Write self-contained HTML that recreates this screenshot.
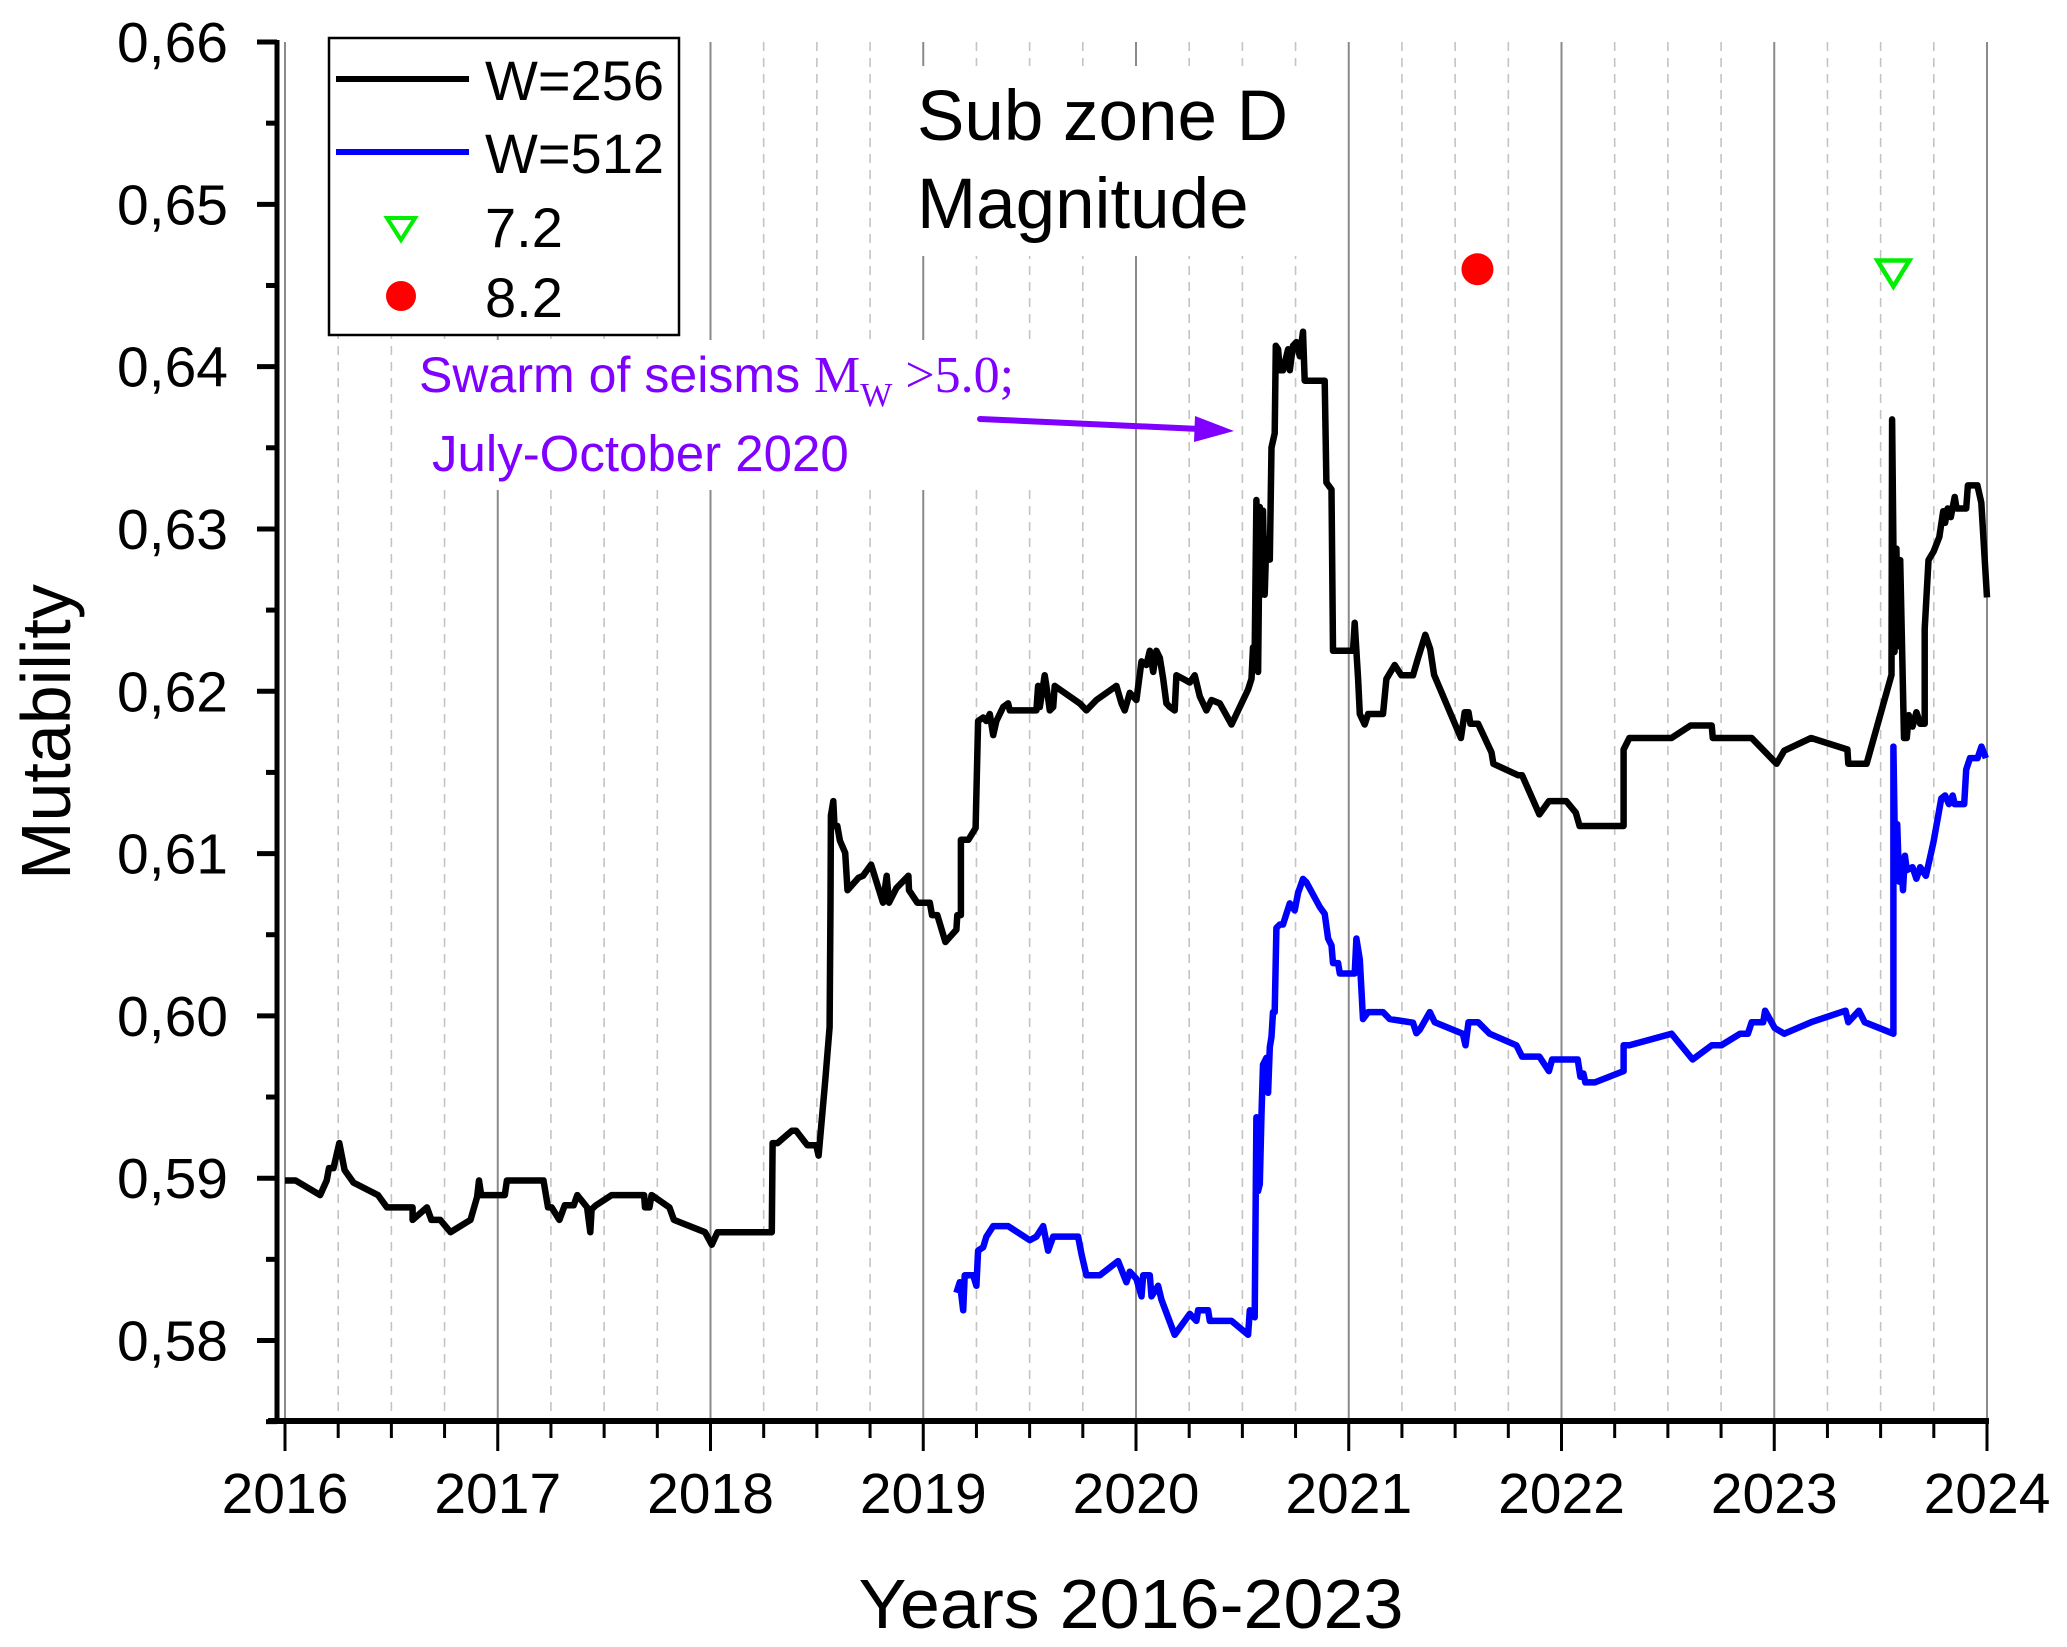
<!DOCTYPE html>
<html><head><meta charset="utf-8"><style>
html,body{margin:0;padding:0;background:#fff;}
svg{display:block;font-family:"Liberation Sans",sans-serif;}
</style></head><body>
<svg id="chart" width="2067" height="1647" viewBox="0 0 2067 1647" xmlns="http://www.w3.org/2000/svg">
<rect x="0" y="0" width="2067" height="1647" fill="#fff"/>
<g id="grid"></g>
<rect x="902" y="66" width="440" height="190" fill="#fff"/>
<rect x="405" y="340" width="665" height="150" fill="#fff"/>
<g id="series"></g>
<g id="axes"></g>
<text x="917" y="140" font-size="71" fill="#000">Sub zone D</text>
<text x="917" y="228" font-size="71" fill="#000">Magnitude</text>
<g>
<text x="419" y="392" font-size="50" fill="#7f00ff"><tspan textLength="395">Swarm of seisms </tspan><tspan font-family="Liberation Serif, serif" font-size="52">M</tspan><tspan font-family="Liberation Serif, serif" font-size="34" dy="14">W</tspan><tspan font-family="Liberation Serif, serif" font-size="52" dy="-14"> &gt;5.0;</tspan></text>
<text x="432" y="471" font-size="51" fill="#7f00ff">July-October 2020</text>
<line x1="980" y1="419" x2="1200" y2="429" stroke="#7f00ff" stroke-width="6" stroke-linecap="round"/>
<polygon points="1234,431 1195,416 1194,442" fill="#7f00ff"/>
</g>
<g>
<rect x="329" y="38" width="350" height="297" fill="#fff" stroke="#000" stroke-width="2.5"/>
<line x1="336" y1="79" x2="469" y2="79" stroke="#000" stroke-width="6"/>
<text x="485" y="100" font-size="56">W=256</text>
<line x1="336" y1="152" x2="469" y2="152" stroke="#0000ff" stroke-width="6"/>
<text x="485" y="173" font-size="56">W=512</text>
<polygon points="387,218 415,218 401,240" fill="none" stroke="#00ee00" stroke-width="4"/>
<text x="485" y="247" font-size="56">7.2</text>
<circle cx="401" cy="296" r="15" fill="#ff0000"/>
<text x="485" y="317" font-size="56">8.2</text>
</g>
<text x="1131" y="1628" font-size="70" text-anchor="middle" textLength="545" lengthAdjust="spacingAndGlyphs">Years 2016-2023</text>
<text transform="translate(70,732) rotate(-90)" font-size="70" text-anchor="middle">Mutability</text>
</svg>
<script>
const blackYears=[2016.0,2016.05,2016.165,2016.196,2016.207,2016.228,2016.255,2016.28,2016.322,2016.437,2016.479,2016.6,2016.6,2016.667,2016.688,2016.73,2016.778,2016.872,2016.903,2016.912,2016.922,2017.033,2017.043,2017.215,2017.236,2017.253,2017.29,2017.315,2017.357,2017.374,2017.42,2017.435,2017.441,2017.462,2017.535,2017.688,2017.692,2017.713,2017.723,2017.807,2017.828,2017.974,2018.006,2018.033,2018.288,2018.292,2018.315,2018.382,2018.403,2018.455,2018.497,2018.508,2018.539,2018.56,2018.564,2018.566,2018.577,2018.583,2018.596,2018.608,2018.633,2018.644,2018.696,2018.717,2018.755,2018.811,2018.828,2018.839,2018.874,2018.93,2018.933,2018.972,2019.031,2019.041,2019.066,2019.104,2019.156,2019.16,2019.177,2019.177,2019.198,2019.212,2019.246,2019.258,2019.282,2019.297,2019.313,2019.329,2019.344,2019.376,2019.399,2019.407,2019.532,2019.54,2019.548,2019.571,2019.579,2019.595,2019.611,2019.618,2019.642,2019.736,2019.767,2019.814,2019.908,2019.932,2019.947,2019.971,2020.002,2020.026,2020.049,2020.065,2020.081,2020.096,2020.112,2020.128,2020.143,2020.159,2020.182,2020.19,2020.222,2020.253,2020.276,2020.3,2020.331,2020.355,2020.394,2020.449,2020.527,2020.543,2020.55,2020.558,2020.566,2020.574,2020.582,2020.59,2020.597,2020.605,2020.613,2020.629,2020.637,2020.652,2020.657,2020.668,2020.676,2020.691,2020.715,2020.723,2020.738,2020.754,2020.77,2020.785,2020.793,2020.887,2020.895,2020.919,2020.926,2020.997,2021.02,2021.028,2021.044,2021.052,2021.075,2021.091,2021.161,2021.177,2021.216,2021.247,2021.302,2021.326,2021.36,2021.383,2021.401,2021.527,2021.545,2021.563,2021.572,2021.608,2021.671,2021.68,2021.797,2021.815,2021.896,2021.941,2022.022,2022.067,2022.085,2022.292,2022.292,2022.319,2022.517,2022.607,2022.706,2022.711,2022.894,2023.011,2023.047,2023.173,2023.344,2023.348,2023.434,2023.551,2023.554,2023.565,2023.574,2023.583,2023.592,2023.61,2023.623,2023.632,2023.65,2023.668,2023.686,2023.707,2023.707,2023.725,2023.749,2023.776,2023.794,2023.803,2023.815,2023.83,2023.848,2023.857,2023.902,2023.91,2023.955,2023.973,2024.0];
const blackValues=[0.58986,0.58986,0.58896,0.58986,0.59062,0.59062,0.59216,0.5905,0.58973,0.58896,0.5882,0.5882,0.58743,0.5882,0.58743,0.58743,0.58667,0.58743,0.58884,0.58986,0.58896,0.58896,0.58986,0.58986,0.5882,0.5882,0.58743,0.58833,0.58833,0.58896,0.5882,0.58667,0.58808,0.58833,0.58896,0.58896,0.5882,0.5882,0.58896,0.5882,0.58743,0.58667,0.5859,0.58667,0.58667,0.59216,0.59216,0.59292,0.59292,0.59203,0.59203,0.59139,0.59599,0.59931,0.60697,0.61234,0.61323,0.6117,0.6117,0.6108,0.61004,0.60774,0.60851,0.60863,0.60932,0.60697,0.60863,0.60697,0.60787,0.60863,0.60774,0.60697,0.60697,0.60621,0.60621,0.60455,0.60531,0.60621,0.60621,0.61085,0.61085,0.61085,0.61157,0.61817,0.61838,0.61817,0.6186,0.6173,0.61817,0.61903,0.61925,0.61882,0.61882,0.62033,0.61903,0.62098,0.62033,0.61882,0.61903,0.62033,0.62011,0.61925,0.61882,0.61946,0.62033,0.61925,0.61882,0.6199,0.61946,0.62184,0.62162,0.62249,0.62119,0.62249,0.62206,0.62076,0.61925,0.61903,0.61882,0.62098,0.62076,0.62054,0.62098,0.61968,0.61882,0.61946,0.61925,0.61795,0.62011,0.62076,0.6227,0.62249,0.63178,0.62119,0.63135,0.62595,0.63113,0.62595,0.6294,0.62811,0.63502,0.63589,0.64129,0.64107,0.63978,0.63978,0.64107,0.63978,0.64129,0.64151,0.64064,0.64215,0.63913,0.63913,0.63286,0.63243,0.62249,0.62249,0.62249,0.62422,0.62076,0.6186,0.61795,0.6186,0.6186,0.62076,0.62162,0.62098,0.62098,0.62206,0.62348,0.6226,0.62101,0.61712,0.61871,0.61871,0.618,0.618,0.61623,0.61553,0.61482,0.61482,0.61241,0.61323,0.61323,0.61252,0.6117,0.6117,0.61641,0.61712,0.61712,0.61789,0.61789,0.61712,0.61712,0.61553,0.61634,0.61712,0.61641,0.61553,0.61553,0.62101,0.63675,0.62242,0.62879,0.62278,0.62808,0.61712,0.61712,0.61853,0.61782,0.61871,0.618,0.618,0.62384,0.62808,0.62861,0.6295,0.63109,0.63038,0.63126,0.63073,0.63197,0.63126,0.63126,0.63268,0.63268,0.63162,0.62578];
const blueYears=[2019.156,2019.172,2019.188,2019.195,2019.235,2019.25,2019.258,2019.282,2019.297,2019.329,2019.36,2019.399,2019.501,2019.532,2019.564,2019.587,2019.611,2019.728,2019.744,2019.767,2019.83,2019.916,2019.955,2019.971,2020.002,2020.026,2020.034,2020.065,2020.073,2020.104,2020.12,2020.182,2020.253,2020.284,2020.292,2020.339,2020.347,2020.449,2020.527,2020.535,2020.558,2020.566,2020.574,2020.582,2020.59,2020.597,2020.613,2020.621,2020.629,2020.637,2020.644,2020.652,2020.66,2020.676,2020.691,2020.707,2020.723,2020.746,2020.762,2020.785,2020.801,2020.864,2020.887,2020.903,2020.919,2020.926,2020.95,2020.958,2021.028,2021.036,2021.052,2021.067,2021.091,2021.161,2021.193,2021.302,2021.318,2021.334,2021.381,2021.404,2021.536,2021.549,2021.563,2021.608,2021.662,2021.788,2021.815,2021.896,2021.941,2021.956,2022.076,2022.089,2022.103,2022.112,2022.157,2022.292,2022.292,2022.319,2022.517,2022.616,2022.706,2022.751,2022.84,2022.876,2022.894,2022.948,2022.957,2023.002,2023.047,2023.173,2023.335,2023.348,2023.398,2023.425,2023.56,2023.56,2023.569,2023.578,2023.587,2023.596,2023.605,2023.614,2023.623,2023.65,2023.668,2023.686,2023.713,2023.731,2023.749,2023.785,2023.803,2023.821,2023.839,2023.848,2023.893,2023.902,2023.92,2023.956,2023.974,2023.995];
const blueValues=[0.58294,0.58359,0.58186,0.58402,0.58402,0.58337,0.58553,0.58575,0.5864,0.58705,0.58705,0.58705,0.58618,0.5864,0.58705,0.58553,0.5864,0.5864,0.58532,0.58402,0.58402,0.58489,0.58359,0.58424,0.5838,0.58272,0.58402,0.58402,0.58272,0.58337,0.58251,0.58035,0.58164,0.58121,0.58186,0.58186,0.58121,0.58121,0.58035,0.58186,0.58143,0.59375,0.58921,0.58964,0.59396,0.59699,0.59742,0.59526,0.59807,0.59872,0.60023,0.60023,0.60542,0.60563,0.60563,0.60628,0.60693,0.6065,0.60758,0.60844,0.60823,0.60671,0.60628,0.60477,0.60434,0.60325,0.60325,0.60261,0.60261,0.60477,0.60347,0.5998,0.60023,0.60023,0.5998,0.59958,0.59893,0.59915,0.60023,0.59961,0.5989,0.59819,0.59961,0.59961,0.5989,0.59819,0.59749,0.59749,0.5966,0.59731,0.59731,0.59625,0.59645,0.5959,0.5959,0.5966,0.59819,0.59819,0.5989,0.59731,0.59819,0.59819,0.5989,0.5989,0.59961,0.59961,0.60032,0.59925,0.5989,0.59961,0.60032,0.59961,0.60032,0.59961,0.5989,0.61659,0.60898,0.61181,0.60827,0.60969,0.60774,0.60987,0.60898,0.60916,0.60845,0.60916,0.60863,0.60969,0.61075,0.6134,0.61358,0.61305,0.61358,0.61305,0.61305,0.61517,0.61588,0.61588,0.61659,0.61588];
const eventYears=[2021.605,2023.56];
const eventValues=[0.646,0.6458];
const yTicks=[0.58,0.59,0.60,0.61,0.62,0.63,0.64,0.65,0.66];
const yTickLabels=["0,58","0,59","0,60","0,61","0,62","0,63","0,64","0,65","0,66"];
const xTicks=[2016,2017,2018,2019,2020,2021,2022,2023,2024];
const xTickLabels=["2016","2017","2018","2019","2020","2021","2022","2023","2024"];

const NS="http://www.w3.org/2000/svg";
const X0=285,X1=1987,Y0=1421,YTOP=42;
function xs(t){return X0+(t-2016)*(X1-X0)/8;}
function ys(v){return 1340.5-(v-0.58)*(1340.5-YTOP)/0.08;}
function mk(tag,attrs,parent){const e=document.createElementNS(NS,tag);for(const k in attrs)e.setAttribute(k,attrs[k]);parent.appendChild(e);return e;}
const grid=document.getElementById('grid'),series=document.getElementById('series'),axes=document.getElementById('axes');
for(let q=0;q<=32;q++){
  const t=2016+q/4,x=xs(t);
  const major=q%4===0;
  const l=mk('line',{x1:x,y1:YTOP,x2:x,y2:Y0,stroke:major?'#8a8a8a':'#c4c4c4','stroke-width':major?2:1.6,'stroke-dasharray':major?'none':'9 7'},grid);
  
  
}
function path(years,vals,color,name){
  let d='';for(let i=0;i<years.length;i++)d+=(i?'L':'M')+xs(years[i]).toFixed(1)+','+ys(vals[i]).toFixed(1);
  const p=mk('path',{d:d,fill:'none',stroke:color,'stroke-width':6.5,'stroke-linejoin':'round'},series);
  
  
}
path(blackYears,blackValues,'#000','series-w256-line');
path(blueYears,blueValues,'#0000ff','series-w512-line');
const c=mk('circle',{cx:xs(eventYears[0]),cy:ys(eventValues[0]),r:16,fill:'#ff0000'},series);


const tx=xs(eventYears[1]),ty=ys(eventValues[1]);
const tri=mk('polygon',{points:(tx-16)+','+(ty-12)+' '+(tx+16)+','+(ty-12)+' '+tx+','+(ty+14),fill:'none',stroke:'#00ee00','stroke-width':4.5},series);


const ya=mk('line',{x1:277,y1:YTOP-2,x2:277,y2:Y0,stroke:'#000','stroke-width':5},axes);


const xa=mk('line',{x1:268,y1:Y0,x2:X1+2,y2:Y0,stroke:'#000','stroke-width':6},axes);


for(let i=0;i<yTicks.length;i++){
  const y=ys(yTicks[i]);
  const tk=mk('line',{x1:257,y1:y,x2:277,y2:y,stroke:'#000','stroke-width':5},axes);
  
  
  const lb=mk('text',{x:228,y:y+20,'font-size':57,'text-anchor':'end'},axes);
  lb.textContent=yTickLabels[i];
  
  
  if(i<yTicks.length-1){
    const ym=ys(yTicks[i]+0.005);
    const mt=mk('line',{x1:266,y1:ym,x2:277,y2:ym,stroke:'#000','stroke-width':5},axes);
    
    
  }
}
const ymb=ys(0.575);
const mtb=mk('line',{x1:266,y1:ymb,x2:277,y2:ymb,stroke:'#000','stroke-width':5},axes);


for(let q=0;q<=32;q++){
  const x=xs(2016+q/4),major=q%4===0;
  const tk=mk('line',{x1:x,y1:Y0,x2:x,y2:Y0+(major?30:17),stroke:'#000','stroke-width':3},axes);
  
  
}
for(let i=0;i<xTicks.length;i++){
  const lb=mk('text',{x:xs(xTicks[i]),y:1513,'font-size':57,'text-anchor':'middle'},axes);
  lb.textContent=xTickLabels[i];
  
  
}
</script>
</body></html>
